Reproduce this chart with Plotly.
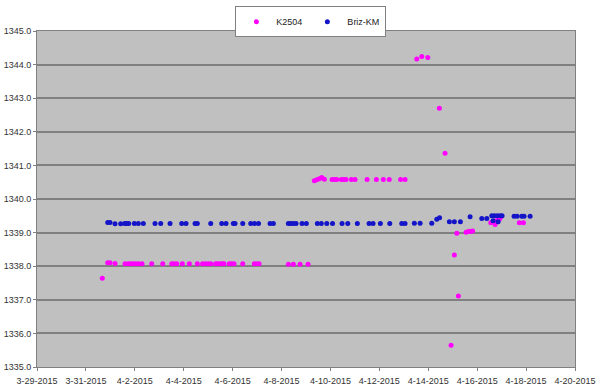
import plotly.graph_objects as go

# K2504 series (magenta)
k_dates = [
    "2015-03-31 16:06", "2015-03-31 21:24", "2015-03-31 23:40", "2015-04-01 04:34",
    "2015-04-01 14:23", "2015-04-01 17:37", "2015-04-01 19:58", "2015-04-01 22:32",
    "2015-04-02 01:10", "2015-04-02 03:49", "2015-04-02 07:03", "2015-04-02 16:35",
    "2015-04-03 03:23", "2015-04-03 12:13", "2015-04-03 14:28", "2015-04-03 17:08",
    "2015-04-03 22:38", "2015-04-04 05:30", "2015-04-04 13:21", "2015-04-04 18:27",
    "2015-04-04 21:12", "2015-04-04 23:51", "2015-04-05 02:30", "2015-04-05 07:13",
    "2015-04-05 09:10", "2015-04-05 11:38", "2015-04-05 13:54", "2015-04-05 15:33",
    "2015-04-05 20:46", "2015-04-05 23:07", "2015-04-06 01:22", "2015-04-06 09:55",
    "2015-04-06 21:18", "2015-04-06 23:40", "2015-04-07 01:55", "2015-04-08 06:40",
    "2015-04-08 11:36", "2015-04-08 18:10", "2015-04-09 02:01",
    "2015-04-09 08:11", "2015-04-09 10:33", "2015-04-09 13:06", "2015-04-09 15:27",
    "2015-04-09 18:01", "2015-04-10 01:34", "2015-04-10 04:02", "2015-04-10 06:11",
    "2015-04-10 10:42", "2015-04-10 13:03", "2015-04-10 15:19", "2015-04-10 20:31",
    "2015-04-11 00:09", "2015-04-11 11:56", "2015-04-11 21:03", "2015-04-12 03:55",
    "2015-04-12 09:43", "2015-04-12 20:49", "2015-04-13 01:13",
    "2015-04-13 12:43", "2015-04-13 17:37", "2015-04-13 23:31", "2015-04-14 10:54",
    "2015-04-14 16:29", "2015-04-14 22:23", "2015-04-15 01:36", "2015-04-15 03:59",
    "2015-04-15 05:33", "2015-04-15 13:06", "2015-04-15 15:22", "2015-04-15 17:31",
    "2015-04-15 19:29", "2015-04-16 13:21", "2015-04-16 17:34", "2015-04-16 19:51",
    "2015-04-16 21:49", "2015-04-16 23:28", "2015-04-16 19:15", "2015-04-17 17:25",
    "2015-04-17 21:22",
]
k_values = [
    1337.64, 1338.10, 1338.10, 1338.08,
    1338.07, 1338.07, 1338.07, 1338.07,
    1338.07, 1338.07, 1338.07, 1338.07,
    1338.07, 1338.07, 1338.07, 1338.07,
    1338.07, 1338.07, 1338.07, 1338.07,
    1338.07, 1338.07, 1338.07, 1338.07,
    1338.07, 1338.07, 1338.07, 1338.07,
    1338.07, 1338.07, 1338.07, 1338.07,
    1338.07, 1338.07, 1338.07, 1338.06,
    1338.06, 1338.06, 1338.06,
    1340.54, 1340.57, 1340.60, 1340.64,
    1340.59, 1340.58, 1340.58, 1340.58,
    1340.58, 1340.58, 1340.58, 1340.58,
    1340.58, 1340.58, 1340.58, 1340.58,
    1340.58, 1340.58, 1340.58,
    1344.17, 1344.24, 1344.21, 1342.70,
    1341.36, 1335.65, 1338.33, 1338.98,
    1337.11, 1339.01, 1339.03, 1339.03,
    1339.05, 1339.29, 1339.24, 1339.32,
    1339.40, 1339.47, 1339.36, 1339.29,
    1339.29,
]

# Briz-KM series (blue)
b_dates = [
    "2015-03-31 21:24", "2015-03-31 23:40", "2015-04-01 04:34", "2015-04-01 10:09",
    "2015-04-01 14:05", "2015-04-01 16:03", "2015-04-01 18:01", "2015-04-01 23:31",
    "2015-04-02 03:26", "2015-04-02 08:21", "2015-04-02 19:49", "2015-04-03 01:25",
    "2015-04-03 10:34", "2015-04-03 22:02", "2015-04-04 02:15", "2015-04-04 11:05",
    "2015-04-04 13:21", "2015-04-05 02:30", "2015-04-05 13:18", "2015-04-05 17:31",
    "2015-04-06 00:42", "2015-04-06 02:21", "2015-04-06 09:55", "2015-04-06 17:46",
    "2015-04-06 21:30", "2015-04-07 01:25", "2015-04-07 12:43", "2015-04-07 15:58",
    "2015-04-08 06:40", "2015-04-08 09:01", "2015-04-08 11:36", "2015-04-08 14:14",
    "2015-04-08 20:07", "2015-04-09 00:20", "2015-04-09 11:08", "2015-04-09 15:04",
    "2015-04-09 20:23", "2015-04-10 02:04", "2015-04-10 11:23", "2015-04-10 16:59",
    "2015-04-11 02:24", "2015-04-11 13:54", "2015-04-11 17:48", "2015-04-12 00:59",
    "2015-04-12 10:12", "2015-04-12 21:59", "2015-04-13 01:13", "2015-04-13 10:21",
    "2015-04-13 15:58", "2015-04-14 03:26", "2015-04-14 08:21", "2015-04-14 11:05",
    "2015-04-14 20:43", "2015-04-15 01:36", "2015-04-15 07:31", "2015-04-15 17:02",
    "2015-04-16 04:31", "2015-04-16 09:26", "2015-04-16 14:20", "2015-04-16 15:36",
    "2015-04-16 16:54", "2015-04-16 19:49", "2015-04-16 20:31", "2015-04-16 22:29",
    "2015-04-17 00:26", "2015-04-17 12:13", "2015-04-17 15:10", "2015-04-17 19:47",
    "2015-04-17 22:02", "2015-04-18 03:56",
]
b_values = [
    1339.30, 1339.30, 1339.26, 1339.26,
    1339.27, 1339.27, 1339.27, 1339.27,
    1339.27, 1339.27, 1339.27, 1339.27,
    1339.27, 1339.27, 1339.27, 1339.27,
    1339.27, 1339.27, 1339.27, 1339.27,
    1339.27, 1339.27, 1339.27, 1339.27,
    1339.27, 1339.27, 1339.27, 1339.27,
    1339.27, 1339.27, 1339.27, 1339.27,
    1339.27, 1339.27, 1339.27, 1339.27,
    1339.27, 1339.27, 1339.27, 1339.27,
    1339.27, 1339.27, 1339.27, 1339.27,
    1339.27, 1339.27, 1339.27, 1339.28,
    1339.28, 1339.28, 1339.40, 1339.44,
    1339.32, 1339.32, 1339.32, 1339.47,
    1339.42, 1339.42, 1339.50, 1339.35,
    1339.50, 1339.50, 1339.32, 1339.50,
    1339.50, 1339.49, 1339.49, 1339.49,
    1339.49, 1339.49,
]

y_ticks = [1335, 1336, 1337, 1338, 1339, 1340, 1341, 1342, 1343, 1344, 1345]

fig = go.Figure()
fig.add_trace(go.Scatter(
    x=k_dates, y=k_values, mode="markers", name="K2504",
    marker=dict(color="#FF00FF", size=5),
))
fig.add_trace(go.Scatter(
    x=b_dates, y=b_values, mode="markers", name="Briz-KM",
    marker=dict(color="#1414C8", size=5),
))

axis_font = dict(family="Liberation Sans, Arial, sans-serif", size=9, color="#333333")

fig.update_layout(
    width=600, height=390,
    margin=dict(l=37, r=25, t=31, b=23, autoexpand=False),
    paper_bgcolor="white",
    plot_bgcolor="#C0C0C0",
    showlegend=True,
    legend=dict(
        orientation="h", x=0.509, y=1.074, xanchor="center", yanchor="top",
        bordercolor="#808080", borderwidth=1, bgcolor="white",
        font=dict(family="Liberation Sans, Arial, sans-serif", size=9, color="#222222"),
        itemwidth=30, tracegroupgap=0,
    ),
    xaxis=dict(
        type="date",
        range=["2015-03-29", "2015-04-20"],
        tick0="2015-03-29", dtick=2 * 86400000,
        tickformat="%-m-%-d-%Y",
        showgrid=False, zeroline=False, automargin=False,
        showline=True, linecolor="#808080", linewidth=1, mirror=True,
        ticks="outside", ticklen=3, tickcolor="#808080",
        ticklabelstandoff=2,
        tickfont=axis_font,
    ),
    yaxis=dict(
        range=[1335, 1345],
        tickvals=y_ticks,
        tickformat=".1f",
        showgrid=True, gridcolor="#808080", gridwidth=1.5,
        zeroline=False, automargin=False,
        showline=True, linecolor="#808080", linewidth=1, mirror=True,
        ticks="outside", ticklen=3, tickcolor="#808080",
        tickfont=axis_font,
    ),
)

# remove the browser's default page margin so the figure fills the window
fig.write_html(
    "out.html",
    config={"displayModeBar": False},
    post_script="document.body.style.margin='0';",
)
